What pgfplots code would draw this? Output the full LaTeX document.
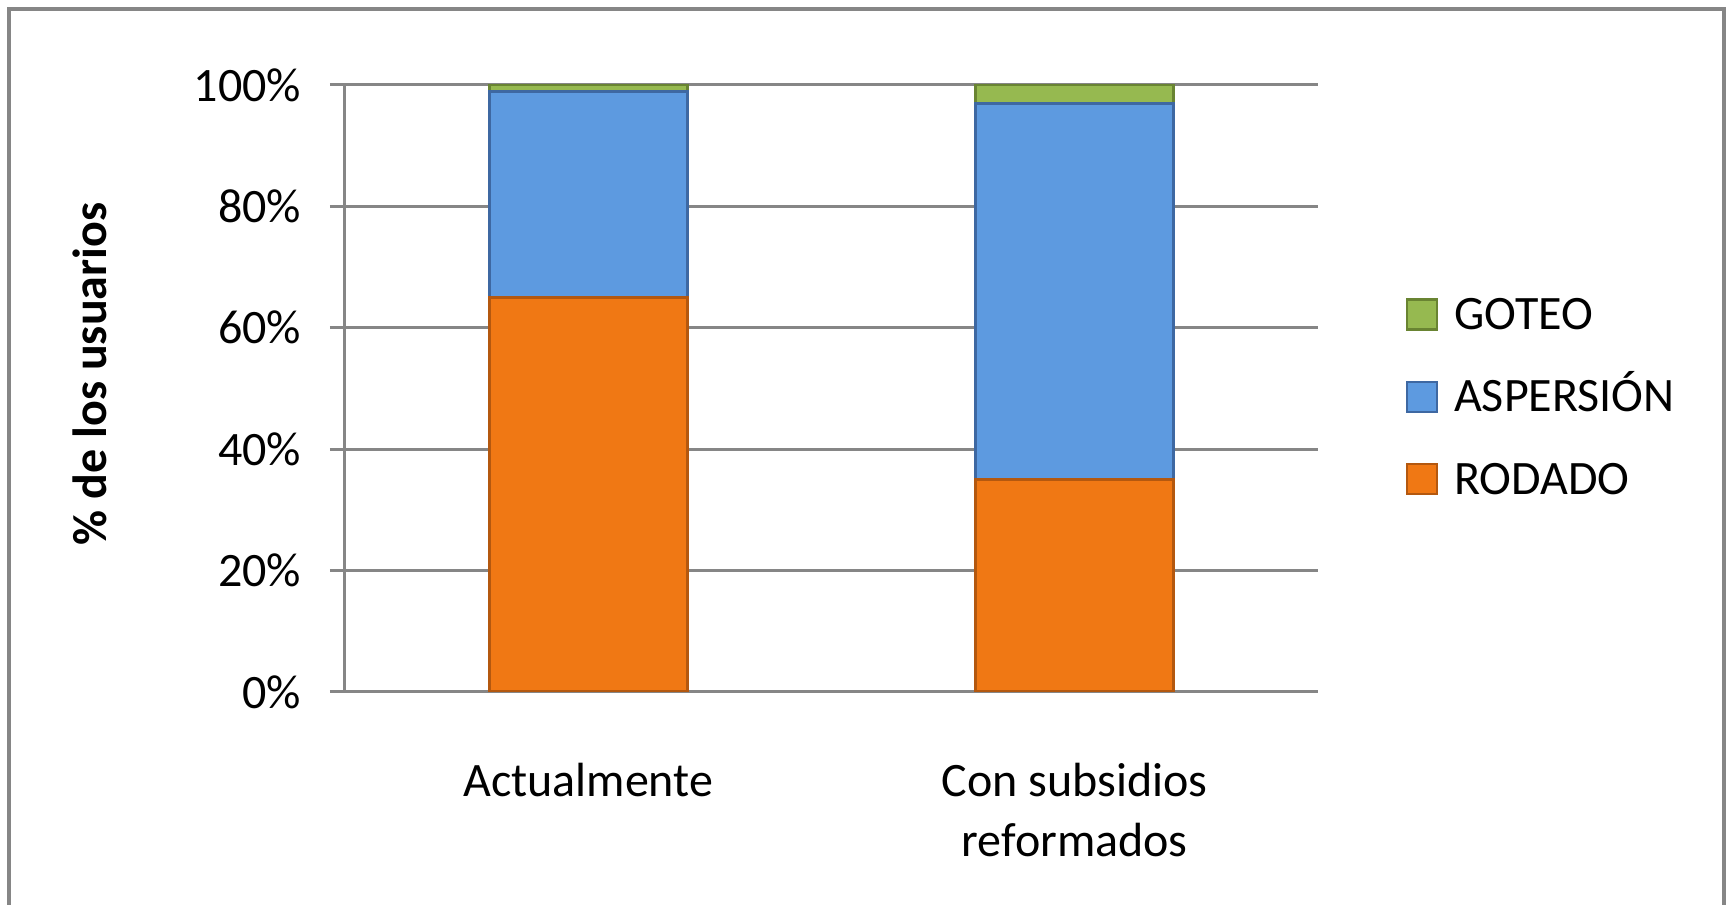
\documentclass[border=0pt]{standalone}
\usepackage{fontspec}
\setmainfont{Carlito}
\usepackage{pgfplots}
\pgfplotsset{compat=1.18}
\definecolor{rod}{RGB}{240,120,20}
\definecolor{rodE}{RGB}{180,88,15}
\definecolor{asp}{RGB}{93,154,224}
\definecolor{aspE}{RGB}{62,104,162}
\definecolor{got}{RGB}{150,185,80}
\definecolor{gotE}{RGB}{105,132,50}
\definecolor{gridc}{RGB}{134,134,134}
\begin{document}
\begin{tikzpicture}
\useasboundingbox (0,0) rectangle (431.75pt,-226.25pt);
\draw[gridc, line width=0.8pt] (2.25pt,-240pt) -- (2.25pt,-2.25pt) -- (431pt,-2.25pt) -- (431pt,-240pt);
\begin{axis}[
  at={(86.25pt,-173pt)}, anchor=south west,
  scale only axis, width=243.25pt, height=151.75pt,
  ybar stacked, bar width=49.5pt,
  xmin=-0.5, xmax=1.5, ymin=0, ymax=100,
  axis lines*=left, axis line style={gridc, line width=0.75pt, -},
  tick align=outside, major tick length=3.75pt,
  xtick={0,1}, xticklabels={Actualmente, {Con subsidios\\reformados}},
  xtick style={draw=none},
  xticklabel style={align=center, anchor=north, inner sep=0pt, yshift=-13.75pt, font=\fontsize{12}{15}\selectfont},
  extra x ticks={-0.5,0.5,1.5}, extra x tick labels={},
  extra x tick style={grid=none, major tick length=3.25pt, tick style={draw=gridc, line width=0.75pt}},
  ytick={0,20,40,60,80,100},
  ytick style={draw=gridc, line width=0.75pt},
  yticklabel={\pgfmathprintnumber{\tick}\%},
  /pgf/number format/assume math mode=true,
  yticklabel style={anchor=east, inner sep=0pt, xshift=-7pt, font=\fontsize{12}{14}\selectfont},
  ymajorgrids, grid style={gridc, line width=0.75pt},
  ylabel={\textbf{\% de los usuarios}},
  every axis y label/.style={at={(axis description cs:-0.262,0.524)}, rotate=90, anchor=center, font=\fontsize{12}{14}\selectfont},
  every axis plot post/.append style={legend image code/.code={\draw[##1, line width=0.6pt] (0pt,-3.75pt) rectangle (7.5pt,3.75pt);}},
  reverse legend,
  legend style={at={(1.0894,0.650)}, anchor=north west, draw=none, fill=none, inner sep=0pt,
    row sep=12.5pt, column sep=4pt, font=\fontsize{12}{14}\selectfont,
    nodes={inner sep=0pt, text height=7.5pt, text depth=0pt}},
  legend cell align=left,
]
\addplot[fill=rod, draw=rodE, line width=0.75pt] coordinates {(0,65) (1,35)};
\addlegendentry{RODADO}
\addplot[fill=asp, draw=aspE, line width=0.75pt] coordinates {(0,34) (1,62)};
\addlegendentry{ASPERSIÓN}
\addplot[fill=got, draw=gotE, line width=0.75pt] coordinates {(0,1) (1,3)};
\addlegendentry{GOTEO}
\end{axis}
\end{tikzpicture}
\end{document}
